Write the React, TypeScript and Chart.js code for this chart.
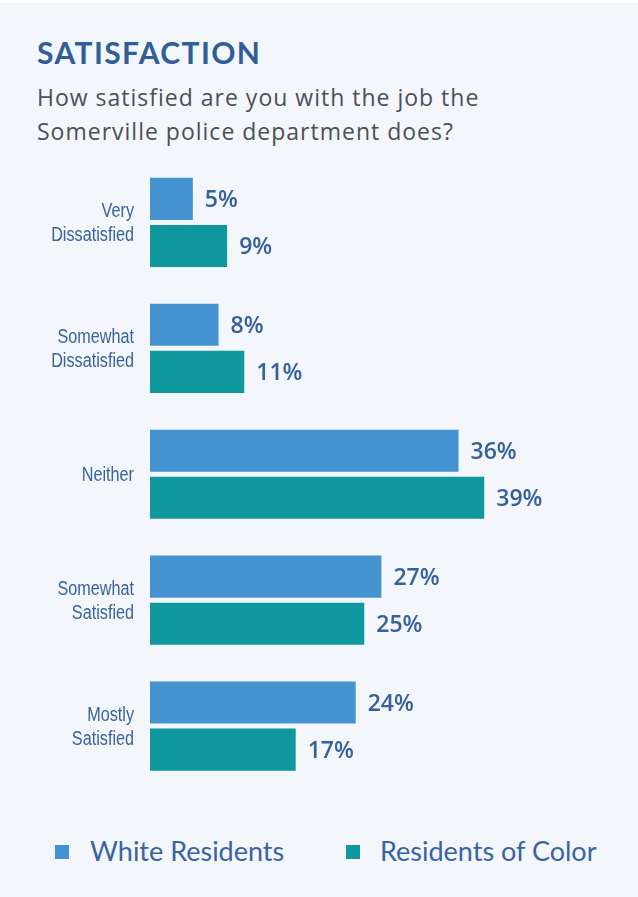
import React, { useEffect, useRef } from "react";
import { Chart, registerables } from "chart.js";

Chart.register(...registerables);

const categories: string[][] = [
  ["Very", "Dissatisfied"],
  ["Somewhat", "Dissatisfied"],
  ["Neither"],
  ["Somewhat", "Satisfied"],
  ["Mostly", "Satisfied"],
];
const whiteResidents: number[] = [5, 8, 36, 27, 24];
const residentsOfColor: number[] = [9, 11, 39, 25, 17];
const seriesNames: string[] = ["White Residents", "Residents of Color"];
const titleText = "SATISFACTION";
const subtitleLines: string[] = [
  "How satisfied are you with the job the",
  "Somerville police department does?",
];

const BLUE = "#4593d1";
const TEAL = "#0f989d";
const TEXT_BLUE = "#36619b";
const BG = "#f3f6fb";

const valueLabels = {
  id: "valueLabels",
  afterDatasetsDraw(chart: any) {
    const ctx = chart.ctx;
    ctx.save();
    ctx.fillStyle = TEXT_BLUE;
    ctx.font = "600 23px 'Open Sans'";
    ctx.textAlign = "left";
    ctx.textBaseline = "alphabetic";
    chart.data.datasets.forEach((ds: any, di: number) => {
      const meta = chart.getDatasetMeta(di);
      meta.data.forEach((bar: any, i: number) => {
        ctx.fillText(ds.data[i] + "%", bar.x + 12, bar.y + 8.5);
      });
    });
    ctx.restore();
  },
};

const categoryLabels = {
  id: "categoryLabels",
  afterDraw(chart: any) {
    const ctx = chart.ctx;
    const scale = chart.scales.y;
    const labels = chart.data.labels as string[][];
    ctx.save();
    ctx.fillStyle = "#3a62a0";
    ctx.font = "20px 'Liberation Sans'";
    ctx.textAlign = "right";
    ctx.textBaseline = "alphabetic";
    labels.forEach((lines, i) => {
      const c = scale.getPixelForTick(i);
      const n = lines.length;
      lines.forEach((line, j) => {
        const y = c + (j - (n - 1) / 2) * 24.3 + 6.8;
        ctx.save();
        ctx.translate(scale.right - 16, y);
        ctx.scale(0.81, 1);
        ctx.fillText(line, 0, 0);
        ctx.restore();
      });
    });
    ctx.restore();
  },
};

export default function App() {
  const ref = useRef<HTMLCanvasElement>(null);
  useEffect(() => {
    if (!ref.current) return;
    const chart = new Chart(ref.current, {
      type: "bar",
      data: {
        labels: categories,
        datasets: [
          {
            label: seriesNames[0],
            data: whiteResidents,
            backgroundColor: BLUE,
            categoryPercentage: 0.748,
            barPercentage: 0.894,
          },
          {
            label: seriesNames[1],
            data: residentsOfColor,
            backgroundColor: TEAL,
            categoryPercentage: 0.748,
            barPercentage: 0.894,
          },
        ],
      },
      options: {
        indexAxis: "y",
        responsive: false,
        animation: false,
        layout: { padding: { top: 159.5, bottom: 21, left: 0, right: 59.5 } },
        plugins: {
          legend: { display: false },
          title: { display: false },
          tooltip: { enabled: false },
        },
        scales: {
          x: { display: false, min: 0, max: 50 },
          y: {
            grid: { display: false, drawTicks: false },
            border: { display: false },
            afterFit: (scale: any) => {
              scale.width = 150;
            },
            ticks: { display: false },
          },
        },
      },
      plugins: [valueLabels, categoryLabels],
    });
    return () => chart.destroy();
  }, []);

  return (
    <div
      style={{
        position: "absolute",
        left: 0,
        top: 0,
        width: 638,
        height: 897,
        background: BG,
        overflow: "hidden",
      }}
    >
      <div style={{ position: "absolute", left: 0, top: 0, width: 638, height: 3, background: "#ffffff" }} />
      <div
        style={{
          position: "absolute",
          left: 37,
          top: 36.5,
          font: "bold 30px Lato, sans-serif",
          lineHeight: "30px",
          color: "#2f5e98",
          letterSpacing: 1.4,
          whiteSpace: "nowrap",
        }}
      >
        {titleText}
      </div>
      {subtitleLines.map((line, i) => (
        <div
          key={i}
          style={{
            position: "absolute",
            left: 37,
            top: 85.6 + i * 34,
            font: "23px 'Open Sans', sans-serif",
            lineHeight: "23px",
            color: "#4d4f57",
            letterSpacing: 1,
            whiteSpace: "nowrap",
          }}
        >
          {line}
        </div>
      ))}
      <canvas ref={ref} width={638} height={810} style={{ position: "absolute", left: 0, top: 0 }} />
      {seriesNames.map((name, i) => (
        <React.Fragment key={name}>
          <div
            style={{
              position: "absolute",
              left: i === 0 ? 55 : 346,
              top: 845,
              width: 14,
              height: 14,
              background: i === 0 ? BLUE : TEAL,
            }}
          />
          <div
            style={{
              position: "absolute",
              left: i === 0 ? 90 : 380,
              top: 837,
              font: "27px Lato, sans-serif",
              lineHeight: "27px",
              color: "#3a64a0",
              whiteSpace: "nowrap",
            }}
          >
            {name}
          </div>
        </React.Fragment>
      ))}
    </div>
  );
}
